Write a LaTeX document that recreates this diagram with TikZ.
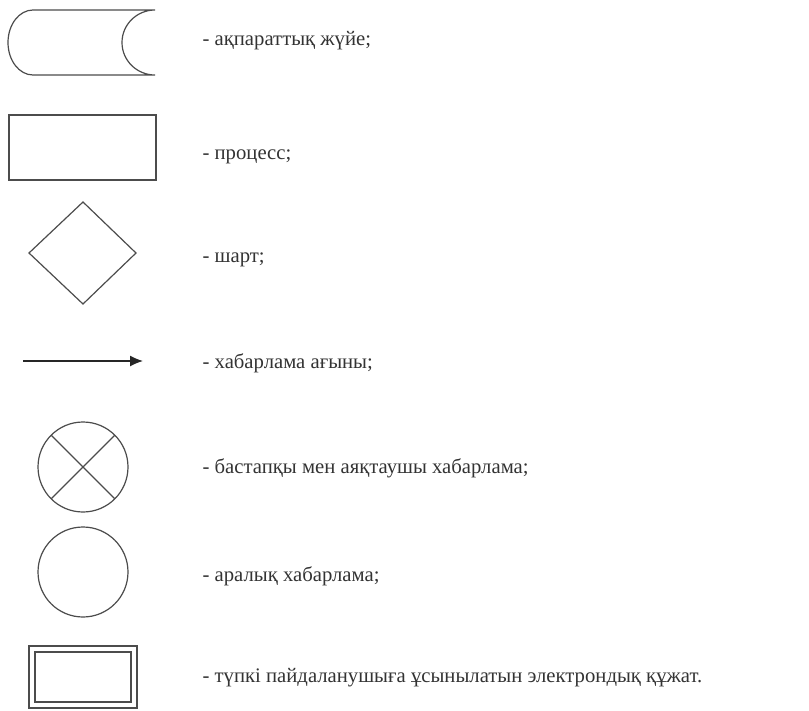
\documentclass[tikz,border=0pt]{standalone}
\usepackage{fontspec}
\setmainfont{Liberation Serif}
\usetikzlibrary{arrows.meta}

\begin{document}
\begin{tikzpicture}[x=1pt,y=-1pt,line width=1.2pt,
  outline/.style={draw=black!70},
  legend/.style={anchor=base west,inner sep=0pt,text=black!80,font=\fontsize{20.7}{24}\selectfont}]
\useasboundingbox (0,0) rectangle (809,710);
\draw[outline] (33,10) -- (155,10) arc[start angle=270,end angle=90,x radius=33,y radius=32.5] -- (33,75) arc[start angle=90,end angle=270,x radius=25,y radius=32.5] -- cycle;
\draw[outline] (9,115) rectangle (156,180);
\draw[outline] (29,253) -- (83,202) -- (136,253) -- (83,304) -- cycle;
\coordinate (arrA) at (23,361);
\coordinate (arrB) at (143,361);
\draw[black!85,-{Latex[length=13pt,width=11pt]}] (arrA) -- (arrB);
\draw[outline] (83,467) circle (45);
\draw[outline] (83,467) ++(45:45) -- ++(225:90);
\draw[outline] (83,467) ++(135:45) -- ++(315:90);
\draw[outline] (83,572) circle (45);
\draw[outline] (29,646) rectangle (137,708);
\draw[outline] (35,652) rectangle (131,702);
\node[legend] (infosys) at (202,45) {- ақпараттық жүйе;};
\node[legend] (process) at (202,159) {- процесс;};
\node[legend] (cond) at (202,262) {- шарт;};
\node[legend] (msgflow) at (202,368) {- хабарлама ағыны;};
\node[legend] (startend) at (202,473) {- бастапқы мен аяқтаушы хабарлама;};
\node[legend] (midmsg) at (202,581) {- аралық хабарлама;};
\node[legend] (edoc) at (202,682) {- түпкі пайдаланушыға ұсынылатын электрондық құжат.};
\end{tikzpicture}
\end{document}
